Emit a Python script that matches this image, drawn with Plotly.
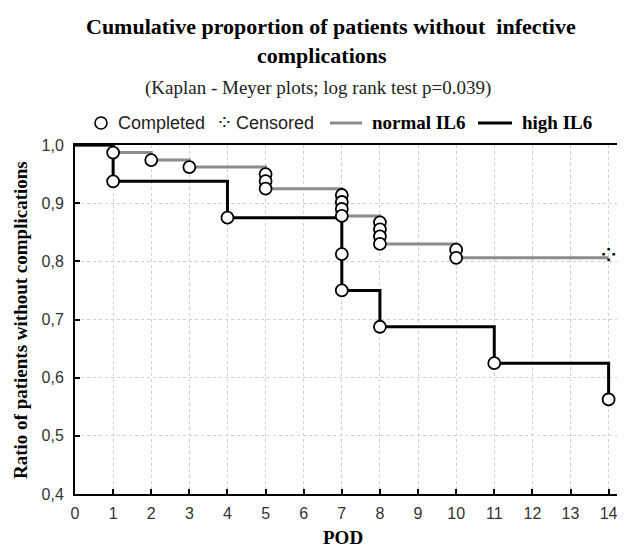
import plotly.graph_objects as go

# ---- data ----
normal_t = [0, 1, 2, 3, 5, 5, 5, 7, 7, 7, 7, 8, 8, 8, 8, 10, 10, 14]
normal_s = [1.0, 0.987, 0.974, 0.962, 0.950, 0.938, 0.925, 0.914, 0.902, 0.890, 0.878,
            0.867, 0.855, 0.843, 0.830, 0.820, 0.806, 0.806]
normal_event_t = [1, 2, 3, 5, 5, 5, 7, 7, 7, 7, 8, 8, 8, 8, 10, 10]
normal_event_s = [0.987, 0.974, 0.962, 0.950, 0.938, 0.925, 0.914, 0.902, 0.890, 0.878,
                  0.867, 0.855, 0.843, 0.830, 0.820, 0.806]
normal_cens_t = [14]
normal_cens_s = [0.806]

high_t = [0, 1, 4, 7, 7, 8, 11, 14]
high_s = [1.0, 0.9375, 0.875, 0.8125, 0.75, 0.6875, 0.625, 0.5625]
high_event_t = [1, 4, 7, 7, 8, 11, 14]
high_event_s = [0.9375, 0.875, 0.8125, 0.75, 0.6875, 0.625, 0.5625]

x_ticks = list(range(0, 15))
y_ticks = [0.4, 0.5, 0.6, 0.7, 0.8, 0.9, 1.0]
y_ticktext = ["0,4", "0,5", "0,6", "0,7", "0,8", "0,9", "1,0"]

GRAY = "#8c8c8c"
SANS = "Liberation Sans, Arial, sans-serif"
SERIF = "Liberation Serif, Times New Roman, serif"

fig = go.Figure()
fig.add_trace(go.Scatter(x=normal_t, y=normal_s, mode="lines", line_shape="hv",
                         line=dict(color=GRAY, width=3), showlegend=False, hoverinfo="skip"))
fig.add_trace(go.Scatter(x=high_t, y=high_s, mode="lines", line_shape="hv",
                         line=dict(color="black", width=3), showlegend=False, hoverinfo="skip"))
circle = dict(symbol="circle", size=12, color="white", line=dict(color="black", width=1.8))
fig.add_trace(go.Scatter(x=normal_event_t, y=normal_event_s, mode="markers", marker=circle,
                         showlegend=False))
fig.add_trace(go.Scatter(x=high_event_t, y=high_event_s, mode="markers", marker=circle,
                         showlegend=False))
fig.add_trace(go.Scatter(x=normal_cens_t, y=normal_cens_s, mode="text", text=["\u2058"],
                         textposition="middle center",
                         textfont=dict(size=26, color="black", family="DejaVu Sans"),
                         showlegend=False))

# page offset (default body margin) compensation
OFF = 8
FW, FH = 625 - OFF, 548 - OFF
# plot area pixel geometry (in window pixels)
L, R, T, B = 75, 625, 145, 494
W, H = R - L, B - T


def px(x):
    return (x - L) / W


def py(y):
    return (B - y) / H


ann = []
ann.append(dict(text="<b>Cumulative proportion of patients without\u00a0 infective</b>",
                x=px(331), y=py(26), font=dict(family=SERIF, size=22, color="black")))
ann.append(dict(text="<b>complications</b>",
                x=px(322), y=py(55), font=dict(family=SERIF, size=22, color="black")))
ann.append(dict(text="(Kaplan - Meyer plots; log rank test p=0.039)",
                x=px(318), y=py(88), font=dict(family=SERIF, size=19, color="#222")))
# legend
ann.append(dict(text="Completed", x=px(116), y=py(123), xanchor="left",
                font=dict(family=SANS, size=18, color="#222")))
ann.append(dict(text="\u2058", x=px(224), y=py(122),
                font=dict(family="DejaVu Sans", size=20, color="#222")))
ann.append(dict(text="Censored", x=px(234), y=py(123), xanchor="left",
                font=dict(family=SANS, size=18, color="#222")))
ann.append(dict(text="<b>normal IL6</b>", x=px(370), y=py(123), xanchor="left",
                font=dict(family=SERIF, size=19, color="black")))
ann.append(dict(text="<b>high IL6</b>", x=px(520), y=py(123), xanchor="left",
                font=dict(family=SERIF, size=19, color="black")))
# axis titles
ann.append(dict(text="<b>Ratio of patients without complications</b>", x=px(20), y=py(320),
                textangle=-90, font=dict(family=SERIF, size=19, color="black")))
ann.append(dict(text="<b>POD</b>", x=px(343), y=py(537),
                font=dict(family=SERIF, size=19, color="black")))
for a in ann:
    a.setdefault("xanchor", "center")
    a.update(xref="paper", yref="paper", yanchor="middle", showarrow=False)

shapes = [
    dict(type="circle", xref="paper", yref="paper", xsizemode="pixel", ysizemode="pixel",
         xanchor=px(101), yanchor=py(123), x0=-6, x1=6, y0=-6, y1=6,
         line=dict(color="black", width=1.6), fillcolor="white"),
    dict(type="line", xref="paper", yref="paper", x0=px(330), x1=px(362), y0=py(123), y1=py(123),
         line=dict(color=GRAY, width=3)),
    dict(type="line", xref="paper", yref="paper", x0=px(478), x1=px(512), y0=py(123), y1=py(123),
         line=dict(color="black", width=3)),
]

fig.update_layout(
    width=FW, height=FH,
    margin=dict(l=L - OFF, r=625 - R, t=T - OFF, b=548 - B, autoexpand=False),
    paper_bgcolor="white", plot_bgcolor="white",
    showlegend=False,
    annotations=ann, shapes=shapes,
    xaxis=dict(range=[0, 14.43], tickvals=x_ticks, ticks="inside", ticklen=5, tickwidth=1.5,
               tickcolor="black", showline=True, linecolor="black", linewidth=2, mirror=True,
               showgrid=True, gridcolor="#d0d0d0", griddash="dot", gridwidth=1,
               zeroline=False, ticklabelstandoff=4,
               tickfont=dict(family=SANS, size=16, color="#333")),
    yaxis=dict(range=[0.4, 1.0], tickvals=y_ticks, ticktext=y_ticktext, ticks="inside",
               ticklen=5, tickwidth=1.5, tickcolor="black", showline=True, linecolor="black",
               linewidth=2, showgrid=True, gridcolor="#d0d0d0", griddash="dot", gridwidth=1,
               zeroline=False, ticklabelstandoff=6,
               tickfont=dict(family=SANS, size=16, color="#333")),
)

fig.write_html("out.html")
